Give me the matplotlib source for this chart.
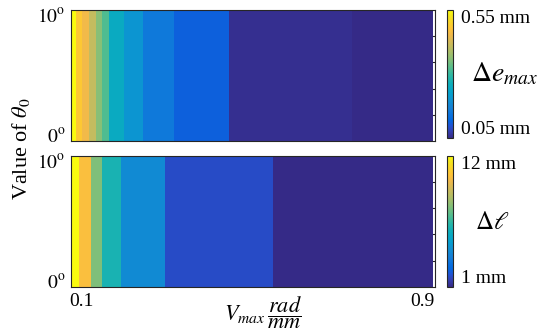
import matplotlib

matplotlib.use("Agg")

import matplotlib.pyplot as plt
import numpy as np
from matplotlib.colors import LinearSegmentedColormap


# band edges along V_max and the value held in each band (constant over theta_0)
top_edges = [0.075, 0.086, 0.100, 0.1166, 0.133, 0.147, 0.164, 0.199, 0.243, 0.318, 0.445, 0.736, 0.925]
top_values = [0.55, 0.485, 0.455, 0.41, 0.36, 0.32, 0.25, 0.205, 0.155, 0.113, 0.056, 0.05]
bottom_edges = [0.075, 0.0931, 0.1218, 0.148, 0.1918, 0.2958, 0.5494, 0.925]
bottom_values = [12.0, 10.2, 7.7, 5.97, 3.97, 1.87, 1.0]
theta_edges = [-0.5, 10.5]

x_ticks = [0.1, 0.5, 0.9]
x_ticklabels = ["0.1", "", "0.9"]
y_ticks = [0, 10]
y_ticklabels = [r"$0^{\mathrm{o}}$", r"$10^{\mathrm{o}}$"]
y_minor = [1.7, 3.9, 6.1, 8.3]

top_range = (0.05, 0.55)
top_cbar_labels = ["0.05 mm", "0.55 mm"]
bottom_range = (1.0, 12.0)
bottom_cbar_labels = ["1 mm", "12 mm"]

# parula (every 3rd entry of the 64-colour table)
PARULA = [
    (0.208, 0.166, 0.529), (0.208, 0.239, 0.677), (0.125, 0.324, 0.830), (0.006, 0.409, 0.883),
    (0.050, 0.459, 0.864), (0.078, 0.504, 0.838), (0.064, 0.557, 0.824), (0.027, 0.614, 0.814),
    (0.023, 0.653, 0.777), (0.059, 0.684, 0.725), (0.145, 0.710, 0.665), (0.259, 0.732, 0.595),
    (0.395, 0.746, 0.524), (0.530, 0.749, 0.466), (0.647, 0.746, 0.419), (0.752, 0.738, 0.377),
    (0.851, 0.730, 0.336), (0.945, 0.726, 0.289), (0.999, 0.765, 0.216), (0.979, 0.827, 0.163),
    (0.959, 0.895, 0.113), (0.976, 0.983, 0.054),
]
parula = LinearSegmentedColormap.from_list("parula", PARULA)

EDGE = "#262626"
W, H = 548, 332


def px_box(x0, y0, x1, y1):
    return [x0 / W, 1 - y1 / H, (x1 - x0) / W, (y1 - y0) / H]


def setup_plot_style() -> None:
    plt.rcParams["font.family"] = ["Liberation Serif", "DejaVu Serif"]
    plt.rcParams["mathtext.fontset"] = "stix"
    plt.rcParams["font.size"] = 14


def band_panel(ax, cax, edges, values, vrange, cbar_labels, show_x):
    mesh = ax.pcolormesh(edges, theta_edges, np.array([values]), cmap=parula,
                         vmin=vrange[0], vmax=vrange[1], shading="flat")
    ax.set_axisbelow(True)
    ax.set_xlim(0.075, 0.93)
    ax.set_ylim(-0.5, 10.5)
    ax.set_xticks(x_ticks)
    ax.set_xticklabels(x_ticklabels if show_x else [""] * len(x_ticks))
    ax.set_yticks(y_ticks)
    ax.set_yticklabels(y_ticklabels)
    ax.set_yticks(y_minor, minor=True)
    ax.tick_params(which="both", direction="in", width=0.8, color=EDGE, top=True, right=True,
                   labelsize=14, pad=4)
    ax.tick_params(axis="x", which="major", length=3.5)
    ax.tick_params(axis="y", which="major", length=0)
    ax.tick_params(axis="y", which="minor", length=3.5)
    for sp in ax.spines.values():
        sp.set_color(EDGE)
        sp.set_linewidth(0.8)

    cb = plt.colorbar(mesh, cax=cax)
    cb.set_ticks(list(vrange))
    cb.set_ticklabels(cbar_labels)
    cb.ax.minorticks_off()
    cb.ax.tick_params(length=0, pad=6, labelsize=14)
    cb.outline.set_edgecolor(EDGE)
    cb.outline.set_linewidth(0.8)
    lo, hi = cb.ax.get_yticklabels()
    lo.set_va("bottom")
    hi.set_va("top")
    return cb


def main() -> None:
    setup_plot_style()
    fig = plt.figure(figsize=(W / 100, H / 100), dpi=100)

    ax_top = fig.add_axes(px_box(71, 10, 435, 141))
    cax_top = fig.add_axes(px_box(446.5, 10, 453, 138))
    ax_bot = fig.add_axes(px_box(71, 155.5, 435, 287))
    cax_bot = fig.add_axes(px_box(446.5, 155.5, 453, 287))

    band_panel(ax_top, cax_top, top_edges, top_values, top_range, top_cbar_labels, False)
    band_panel(ax_bot, cax_bot, bottom_edges, bottom_values, bottom_range, bottom_cbar_labels, True)

    fig.text(471 / W, 1 - 74 / H, r"$\Delta e_{max}$", fontsize=20, ha="left", va="center")
    fig.text(475 / W, 1 - 223 / H, r"$\Delta \ell$", fontsize=18, ha="left", va="center")
    fig.text(263 / W, 1 - 331 / H, r"$V_{max}\,\dfrac{rad}{mm}$", fontsize=16, ha="center", va="bottom")
    fig.text(21 / W, 1 - 149 / H, r"Value of $\theta_0$", fontsize=16, rotation=90,
             ha="center", va="center")

    fig.savefig("out.png", dpi=100)
    plt.close(fig)


if __name__ == "__main__":
    main()
